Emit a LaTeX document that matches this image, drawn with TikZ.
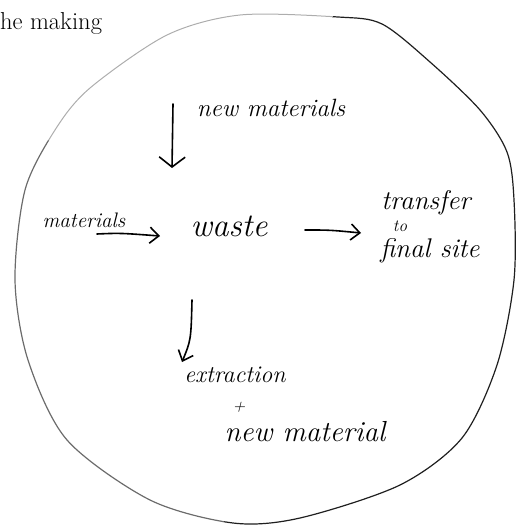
\documentclass[tikz,border=0pt]{standalone}
\usepackage{fontspec}
\usetikzlibrary{arrows.meta}
\begin{document}
\begin{tikzpicture}[x=1pt,y=-1pt,
  hand/.style={inner sep=0pt},
  ink/.style={line width=1.6pt,line cap=round,line join=round},
  barbw/.style={-{Straight Barb[length=10pt,width=26pt,line width=1.6pt]}},
  barb/.style={-{Straight Barb[length=9pt,width=16pt,line width=1.6pt]}},
  rim/.style={line width=1.2pt,line cap=round}]
\useasboundingbox (0,0) rectangle (515,527);
% printed text fragment
\node[anchor=base west,inner sep=0pt,font=\fontsize{24.5}{26}\selectfont] (book) at (0,30) {he making};
% outline
\def\rimpath{plot[smooth cycle] coordinates {
 (338,17) (382,24) (430,62) (480,110) (507,152) (514,200) (514,280) (497,365)
 (462,438) (400,485) (300,518) (233,523) (150,500)
 (67,440) (28,360) (15,280) (25,190) (55,130) (90,88)
 (167,35) (240,15)}}
\begin{scope}
 \clip (338,-10) -- (530,-10) -- (530,540) -- (220,540) -- cycle;
 \draw[rim,color=black!88] \rimpath;
\end{scope}
\begin{scope}
 \clip (-10,-10) -- (338,-10) -- (285,263) -- (-10,110) -- cycle;
 \draw[rim,line width=1pt,color=black!32] \rimpath;
\end{scope}
\begin{scope}
 \clip (-10,110) -- (285,263) -- (220,540) -- (-10,540) -- cycle;
 \draw[rim,color=black!58] \rimpath;
\end{scope}
% labels
\node[hand,font=\fontsize{25}{26}\selectfont\itshape] (newm) at (271,108) {new materials};
\node[hand,font=\fontsize{21}{24}\selectfont\itshape] (mat) at (84,220) {materials};
\node[hand,font=\fontsize{33}{34}\selectfont\itshape] (waste) at (229,226) {waste};
\node[hand,anchor=base,font=\fontsize{27}{27}\selectfont\itshape] (trans) at (426,209) {transfer};
\node[hand,anchor=base,font=\fontsize{17}{17}\selectfont\itshape] (to) at (400,231) {to};
\node[hand,anchor=base,font=\fontsize{27}{27}\selectfont\itshape] (site) at (430,257) {final site};
\node[hand,font=\fontsize{24}{24}\selectfont\itshape] (extr) at (235,375) {extraction};
\node[hand,anchor=base,font=\fontsize{17}{17}\selectfont\itshape] (plus) at (239,411) {+};
\node[hand,anchor=base,font=\fontsize{29}{30}\selectfont\itshape] (newmat) at (305,441) {new material};
% connectors
\coordinate (a1) at (173,104);
\coordinate (a2) at (172,168);
\draw[ink,barbw] (a1) -- (a2);
\coordinate (b1) at (97,234);
\coordinate (b2) at (160,236);
\draw[ink,barb] (b1) .. controls (120,233) .. (b2);
\coordinate (c1) at (305,230);
\coordinate (c2) at (361,233);
\draw[ink,barb] (c1) .. controls (330,230) .. (c2);
\coordinate (d1) at (192,300);
\coordinate (d2) at (182,362);
\draw[ink,barb] (d1) .. controls (191,340) .. (d2);
\end{tikzpicture}
\end{document}
